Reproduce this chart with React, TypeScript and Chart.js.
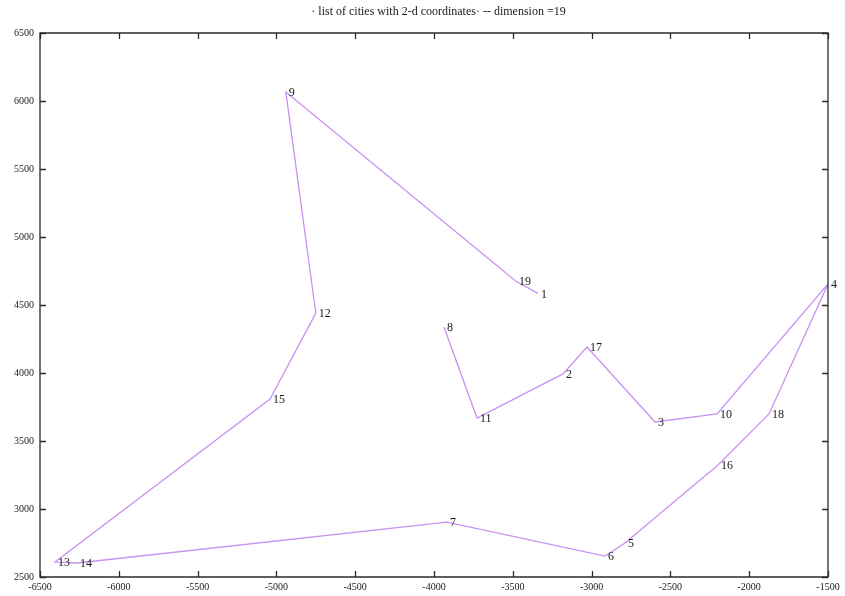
import React, { useEffect, useRef } from 'react';
import { Chart, registerables } from 'chart.js';

Chart.register(...registerables);

// Tour order of the cities
const cityIds = [1, 19, 9, 12, 15, 13, 14, 7, 6, 5, 16, 18, 4, 10, 3, 17, 2, 11, 8];
const cityX = [-3340, -3480, -4940, -4750, -5040, -6405, -6265, -3918, -2915, -2788, -2198, -1874, -1500, -2204, -2598, -3029, -3182, -3727, -3937];
const cityY = [4585, 4675, 6066, 4441, 3809, 2610, 2603, 2904, 2654, 2750, 3324, 3699, 4654, 3699, 3640, 4191, 3993, 3669, 4338];

const xMin = -6500;
const xMax = -1500;
const yMin = 2500;
const yMax = 6500;
const tickStep = 500;

const titleText = '\u00b7 list of cities with 2-d coordinates\u00b7 -- dimension =19';

const FONT = "'Liberation Serif', 'DejaVu Serif', serif";

const framePlugin = {
  id: 'frameTicks',
  afterDraw(chart: any) {
    const { ctx, chartArea } = chart;
    const { left, right, top, bottom } = chartArea;
    const xs = chart.scales.x;
    const ys = chart.scales.y;
    const len = 6;
    ctx.save();
    ctx.strokeStyle = '#2a2a2a';
    ctx.lineWidth = 1.3;
    ctx.beginPath();
    ctx.rect(left, top, right - left, bottom - top);
    ctx.stroke();
    ctx.beginPath();
    xs.ticks.forEach((t: any) => {
      const px = Math.round(xs.getPixelForValue(t.value)) + 0.5;
      ctx.moveTo(px, bottom);
      ctx.lineTo(px, bottom - len);
      ctx.moveTo(px, top);
      ctx.lineTo(px, top + len);
    });
    ys.ticks.forEach((t: any) => {
      const py = Math.round(ys.getPixelForValue(t.value)) + 0.5;
      ctx.moveTo(left, py);
      ctx.lineTo(left + len, py);
      ctx.moveTo(right, py);
      ctx.lineTo(right - len, py);
    });
    ctx.stroke();
    // title
    ctx.font = `12px ${FONT}`;
    ctx.fillStyle = '#1a1a1a';
    ctx.textAlign = 'center';
    ctx.textBaseline = 'middle';
    ctx.fillText(titleText, 438.5, 12);
    ctx.restore();
  },
};

const labelPlugin = {
  id: 'cityLabels',
  afterDatasetsDraw(chart: any) {
    const { ctx } = chart;
    const meta = chart.getDatasetMeta(0);
    ctx.save();
    ctx.font = `12px ${FONT}`;
    ctx.fillStyle = '#1a1a1a';
    ctx.textAlign = 'left';
    ctx.textBaseline = 'middle';
    meta.data.forEach((el: any, i: number) => {
      ctx.fillText(String(cityIds[i]), el.x + 3, el.y + 1);
    });
    ctx.restore();
  },
};

export default function App() {
  const canvasRef = useRef<HTMLCanvasElement | null>(null);

  useEffect(() => {
    if (!canvasRef.current) return;
    const points = cityX.map((x, i) => ({ x, y: cityY[i] }));
    const chart = new Chart(canvasRef.current, {
      type: 'scatter',
      data: {
        datasets: [
          {
            data: points,
            showLine: true,
            borderColor: 'rgb(200, 145, 242)',
            borderWidth: 1.3,
            pointRadius: 0,
            pointHoverRadius: 0,
            fill: false,
            tension: 0,
          },
        ],
      },
      options: {
        responsive: false,
        animation: false,
        events: [],
        layout: { padding: { top: 33, right: 17, left: 0, bottom: 0 } },
        plugins: {
          legend: { display: false },
          tooltip: { enabled: false },
          title: { display: false },
        },
        scales: {
          x: {
            type: 'linear',
            min: xMin,
            max: xMax,
            grid: { display: false, drawTicks: false },
            border: { display: false },
            afterFit: (s: any) => {
              s.height = 19;
            },
            ticks: {
              stepSize: tickStep,
              autoSkip: false,
              maxRotation: 0,
              padding: 4,
              color: '#1a1a1a',
              font: { family: FONT, size: 10 },
              callback: (v: any) => String(v),
            },
          },
          y: {
            type: 'linear',
            min: yMin,
            max: yMax,
            grid: { display: false, drawTicks: false },
            border: { display: false },
            afterFit: (s: any) => {
              s.width = 40;
            },
            ticks: {
              stepSize: tickStep,
              autoSkip: false,
              padding: 6,
              color: '#1a1a1a',
              font: { family: FONT, size: 10 },
              callback: (v: any) => String(v),
            },
          },
        },
      },
      plugins: [framePlugin, labelPlugin],
    });
    return () => chart.destroy();
  }, []);

  return (
    <div style={{ position: 'fixed', left: 0, top: 0, width: 845, height: 596, background: '#fff' }}>
      <canvas ref={canvasRef} width={845} height={596} style={{ display: 'block', width: 845, height: 596 }} />
    </div>
  );
}
